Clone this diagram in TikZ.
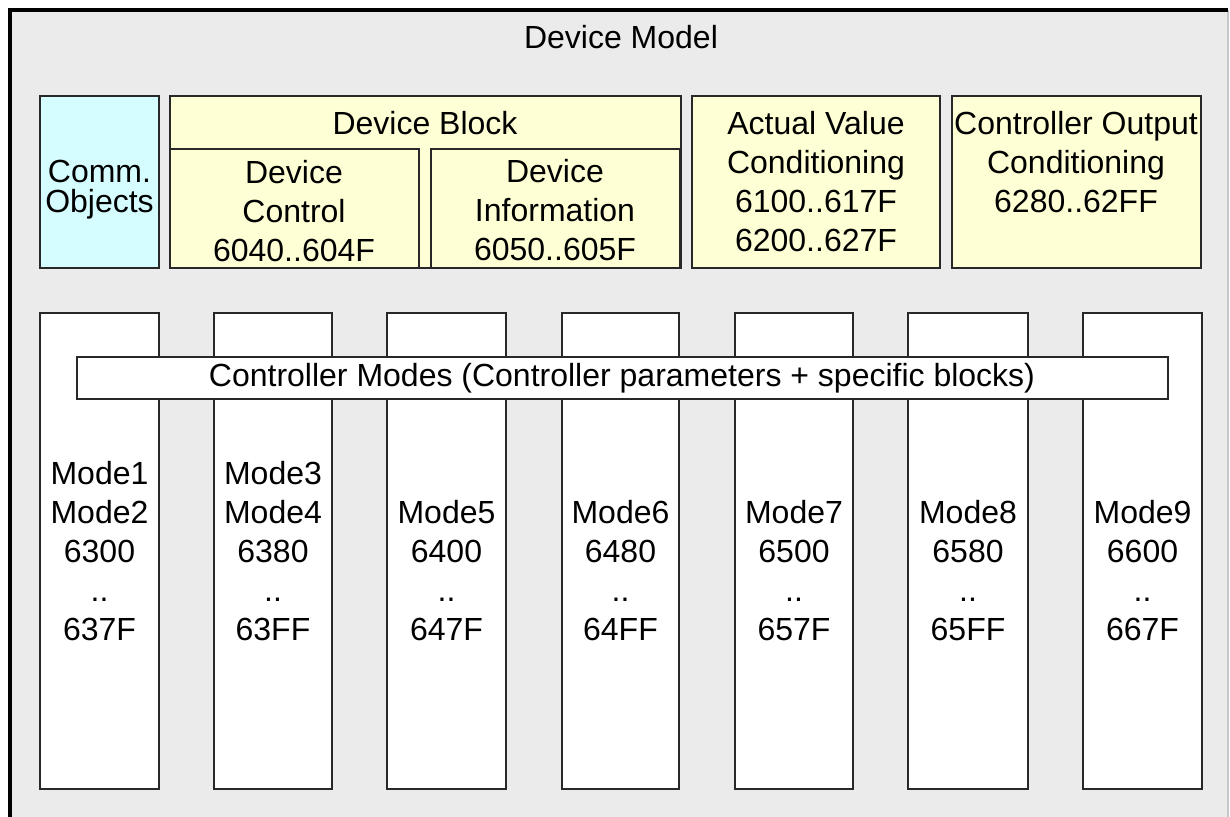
\documentclass[tikz,border=0pt]{standalone}
\usepackage{fontspec}
\setmainfont{Liberation Sans}

\tikzset{every picture/.style={line width=0.75pt}}
\tikzset{
  boxline/.style={draw={rgb, 255:red, 40; green, 40; blue, 40 }},
  yelbox/.style={boxline, fill={rgb, 255:red, 255; green, 255; blue, 213 }},
  cyanbox/.style={boxline, fill={rgb, 255:red, 213; green, 252; blue, 255 }},
  whitebox/.style={boxline, fill=white},
  lbl/.style={align=center, inner sep=0pt, font=\fontsize{16}{19.5}\selectfont},
}

\begin{document}
\begin{tikzpicture}[x=0.5pt,y=0.5pt,yscale=-1]
  \useasboundingbox (0,0) rectangle (1230,816);

  % frame
  \fill [fill={rgb, 255:red, 235; green, 235; blue, 235 }] (10,10) rectangle (1228,820);
  \draw [draw={rgb, 255:red, 200; green, 200; blue, 200 }, line width=1pt] (1228,10) -- (1228,820);
  \draw [line width=2pt] (10,820) -- (10,10) -- (1228,10);
  \draw (621,37) node (title) [lbl] {Device Model};

  % upper blocks
  \draw [cyanbox] (40,96) rectangle (159,268);
  \draw [yelbox] (170,96) rectangle (681,268);
  \draw [yelbox] (170,149) rectangle (419,268);
  \draw [yelbox] (431,149) rectangle (680,268);
  \draw [yelbox] (692,96) rectangle (940,268);
  \draw [yelbox] (952,96) rectangle (1201,268);

  \draw (99.5,190) node (comm) [lbl, font=\fontsize{16}{15}\selectfont] {Comm.\\Objects};
  \draw (425,123) node (devblock) [lbl] {Device Block};
  \draw (294,211) node (devctrl) [lbl] {Device\\Control\\6040..604F};
  \draw (555,210) node (devinfo) [lbl] {Device\\Information\\6050..605F};
  \draw (816,182) node (actval) [lbl] {Actual Value\\Conditioning\\6100..617F\\6200..627F};
  \draw (1076,162) node (ctrlout) [lbl] {Controller Output\\Conditioning\\6280..62FF};

  % mode columns
  \draw [whitebox] (40,313) rectangle (159,789);
  \draw [whitebox] (214,313) rectangle (332,789);
  \draw [whitebox] (387,313) rectangle (506,789);
  \draw [whitebox] (562,313) rectangle (679,789);
  \draw [whitebox] (735,313) rectangle (853,789);
  \draw [whitebox] (908,313) rectangle (1028,789);
  \draw [whitebox] (1083,313) rectangle (1202,789);

  \draw [whitebox] (77,357) rectangle (1168,399);
  \draw (622,378) node (modes) [lbl] {Controller Modes (Controller parameters + specific blocks)};

  \draw (99.5,642) node (mode12) [lbl, anchor=south] {Mode1\\Mode2\\6300\\..\\637F};
  \draw (273,642) node (mode34) [lbl, anchor=south] {Mode3\\Mode4\\6380\\..\\63FF};
  \draw (446.5,642) node (mode5) [lbl, anchor=south] {Mode5\\6400\\..\\647F};
  \draw (620.5,642) node (mode6) [lbl, anchor=south] {Mode6\\6480\\..\\64FF};
  \draw (794,642) node (mode7) [lbl, anchor=south] {Mode7\\6500\\..\\657F};
  \draw (968,642) node (mode8) [lbl, anchor=south] {Mode8\\6580\\..\\65FF};
  \draw (1142.5,642) node (mode9) [lbl, anchor=south] {Mode9\\6600\\..\\667F};

\end{tikzpicture}
\end{document}
